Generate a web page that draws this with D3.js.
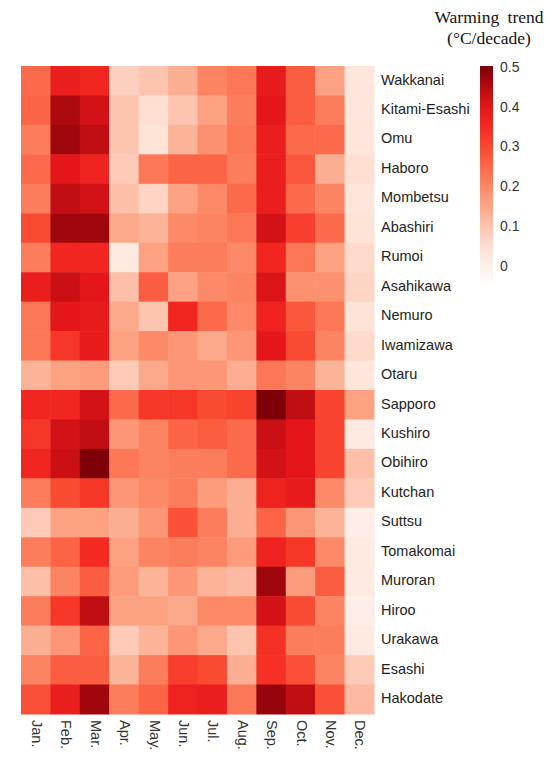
<!DOCTYPE html>
<html><head><meta charset="utf-8">
<script src="https://cdn.jsdelivr.net/npm/d3@7"></script>
<style>body{margin:0;background:#fff;}</style>
</head><body>
<svg id="chart" width="550" height="762"></svg>
<script>
const stations = ["Wakkanai","Kitami-Esashi","Omu","Haboro","Mombetsu","Abashiri","Rumoi","Asahikawa","Nemuro","Iwamizawa","Otaru","Sapporo","Kushiro","Obihiro","Kutchan","Suttsu","Tomakomai","Muroran","Hiroo","Urakawa","Esashi","Hakodate"];
const months = ["Jan.","Feb.","Mar.","Apr.","May.","Jun.","Jul.","Aug.","Sep.","Oct.","Nov.","Dec."];
const trend = [
 [0.25,0.38,0.36,0.08,0.10,0.14,0.21,0.23,0.39,0.27,0.16,0.03],
 [0.26,0.46,0.42,0.10,0.05,0.10,0.16,0.22,0.40,0.27,0.22,0.03],
 [0.22,0.47,0.44,0.10,0.04,0.13,0.19,0.23,0.38,0.25,0.25,0.03],
 [0.25,0.40,0.37,0.09,0.23,0.26,0.26,0.22,0.38,0.28,0.14,0.05],
 [0.22,0.44,0.42,0.11,0.07,0.16,0.20,0.25,0.38,0.25,0.21,0.03],
 [0.30,0.47,0.47,0.15,0.13,0.20,0.21,0.23,0.42,0.32,0.25,0.04],
 [0.22,0.36,0.36,0.02,0.16,0.22,0.22,0.20,0.36,0.23,0.16,0.06],
 [0.38,0.43,0.40,0.11,0.27,0.16,0.20,0.21,0.41,0.19,0.19,0.07],
 [0.23,0.40,0.39,0.15,0.10,0.36,0.25,0.20,0.37,0.28,0.23,0.04],
 [0.23,0.33,0.39,0.16,0.20,0.18,0.15,0.18,0.40,0.30,0.21,0.06],
 [0.13,0.16,0.17,0.09,0.15,0.18,0.18,0.14,0.23,0.21,0.13,0.03],
 [0.36,0.36,0.42,0.25,0.33,0.33,0.30,0.31,0.50,0.44,0.31,0.16],
 [0.33,0.42,0.44,0.18,0.21,0.26,0.27,0.25,0.43,0.40,0.31,0.02],
 [0.36,0.43,0.50,0.23,0.21,0.22,0.22,0.25,0.42,0.40,0.31,0.11],
 [0.22,0.30,0.33,0.18,0.20,0.22,0.17,0.14,0.37,0.39,0.20,0.09],
 [0.09,0.16,0.16,0.14,0.18,0.29,0.22,0.14,0.26,0.18,0.13,0.01],
 [0.22,0.26,0.35,0.16,0.21,0.22,0.21,0.17,0.37,0.33,0.20,0.02],
 [0.11,0.21,0.27,0.17,0.13,0.18,0.13,0.12,0.47,0.17,0.27,0.02],
 [0.22,0.33,0.44,0.16,0.16,0.15,0.20,0.20,0.42,0.30,0.21,0.01],
 [0.14,0.18,0.26,0.09,0.13,0.18,0.15,0.10,0.34,0.22,0.22,0.02],
 [0.21,0.27,0.27,0.13,0.22,0.32,0.30,0.14,0.34,0.29,0.21,0.09],
 [0.29,0.38,0.47,0.22,0.26,0.37,0.38,0.23,0.48,0.44,0.29,0.12]
];
const legendTicks = [0,0.1,0.2,0.3,0.4,0.5];

const stopVals = [-0.05,0,0.05,0.1,0.15,0.2,0.25,0.3,0.35,0.4,0.45,0.5];
const stopCols = ["#ffffff","#fff1ec","#fedfd2","#fdc5b0","#fca88a","#fc8a68","#fb6a4a","#f94a32","#f42a22","#e4161a","#b80c10","#7d0008"];
const color = d3.scaleLinear().domain(stopVals).range(stopCols).interpolate(d3.interpolateRgb).clamp(true);

const svg = d3.select("#chart");
const x = d3.scaleBand().domain(months).range([21,374]);
const y = d3.scaleBand().domain(stations).range([66,714]);

const cells = [];
stations.forEach((s,i)=>months.forEach((m,j)=>cells.push({s,m,v:trend[i][j]})));
svg.append("g").selectAll("rect").data(cells).join("rect")
  .attr("x",d=>x(d.m)).attr("y",d=>y(d.s))
  .attr("width",x.bandwidth()+0.5).attr("height",y.bandwidth()+0.5)
  .attr("fill",d=>color(d.v));

// station labels
svg.append("g").selectAll("text").data(stations).join("text")
  .attr("x",381).attr("y",d=>y(d)+y.bandwidth()/2)
  .attr("dominant-baseline","middle")
  .attr("font-family","Liberation Sans, Arial, sans-serif").attr("font-size",14.5)
  .attr("fill","#222").text(d=>d);

// month labels
svg.append("g").selectAll("text").data(months).join("text")
  .attr("transform",d=>`translate(${x(d)+x.bandwidth()/2},720) rotate(90)`)
  .attr("dominant-baseline","middle")
  .attr("font-family","Liberation Sans, Arial, sans-serif").attr("font-size",14.5)
  .attr("fill","#333").text(d=>d);

// legend
const ly = d3.scaleLinear().domain([0,0.5]).range([267,68]);
const defs = svg.append("defs");
const grad = defs.append("linearGradient").attr("id","lg").attr("x1",0).attr("y1",1).attr("x2",0).attr("y2",0);
const lmin=-0.05, lmax=0.505;
d3.range(0,21).forEach(k=>{
  const v = lmin + (lmax-lmin)*k/20;
  grad.append("stop").attr("offset",k/20).attr("stop-color",color(v));
});
svg.append("rect").attr("x",480).attr("y",ly(lmax)).attr("width",13)
  .attr("height",ly(lmin)-ly(lmax)).attr("fill","url(#lg)");
svg.append("g").selectAll("text").data(legendTicks).join("text")
  .attr("x",500).attr("y",d=>ly(d)).attr("dominant-baseline","middle")
  .attr("font-family","Liberation Sans, Arial, sans-serif").attr("font-size",14)
  .attr("fill","#333").text(d=>d===0?"0":d.toFixed(1));

svg.append("text").attr("x",489).attr("y",23).attr("text-anchor","middle")
  .attr("font-family","Liberation Serif, Times New Roman, serif").attr("font-size",17.5)
  .attr("word-spacing",4).attr("fill","#111").text("Warming trend");
svg.append("text").attr("x",489).attr("y",44).attr("text-anchor","middle")
  .attr("font-family","Liberation Serif, Times New Roman, serif").attr("font-size",17.5)
  .attr("fill","#111").text("(°C/decade)");
</script>
</body></html>
